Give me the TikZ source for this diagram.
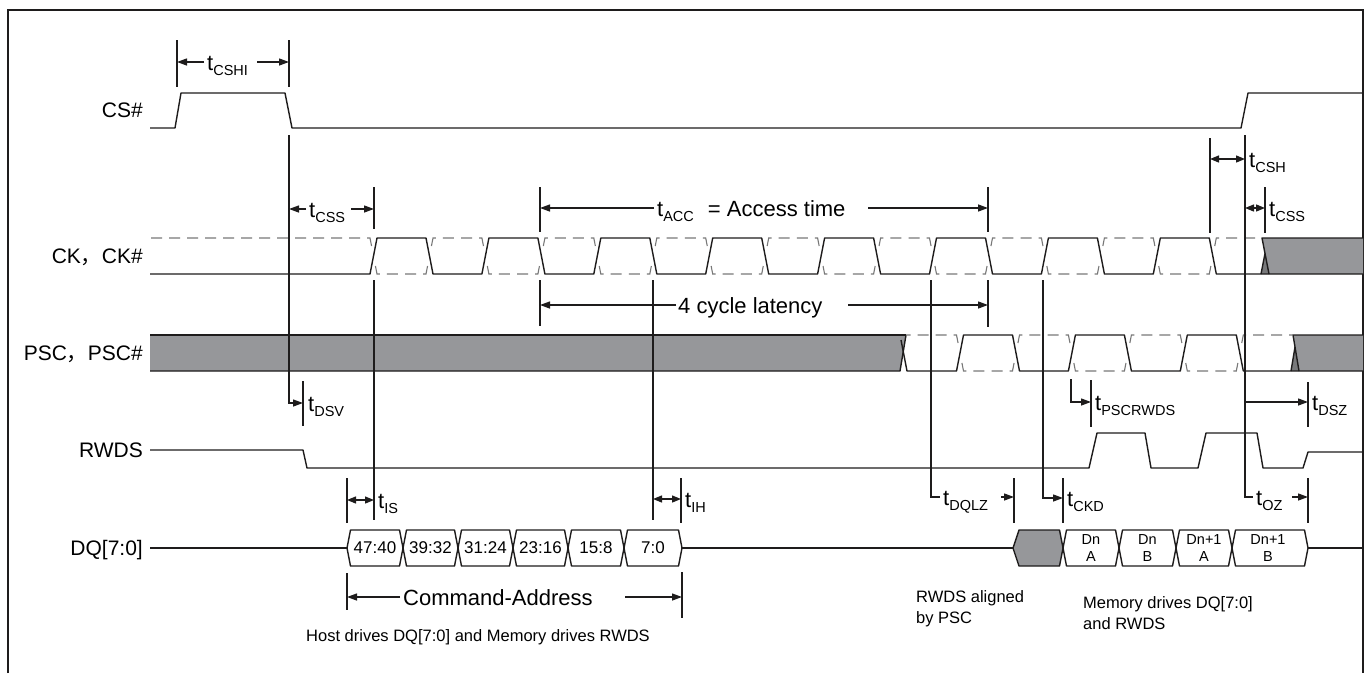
\documentclass[tikz,border=0pt]{standalone}
\usepackage{fontspec}
\setmainfont{Liberation Sans}
\newfontfamily\cjkfont{Noto Sans CJK SC}
\usetikzlibrary{arrows.meta}
\definecolor{wavegray}{RGB}{150,151,154}
\definecolor{dashgray}{RGB}{120,120,120}
\definecolor{ink}{RGB}{30,28,28}
\newcommand{\tsubs}[1]{t\raisebox{-5pt}{\fontsize{14.5}{16}\selectfont #1}}
\begin{document}
\begin{tikzpicture}[x=1pt,y=-1pt,
  sig/.style={draw=ink,line width=1.4pt,line join=round},
  cmp/.style={draw=dashgray,line width=1.1pt,dash pattern=on 11pt off 7pt},
  tickln/.style={draw=ink,line width=1.3pt},
  arrln/.style={draw=ink,line width=1.3pt,-{Triangle[length=10pt,width=7pt]}},
  darr/.style={draw=ink,line width=1.3pt,{Triangle[length=9pt,width=7pt]}-{Triangle[length=9pt,width=7pt]}},
  tlab/.style={anchor=base west,inner sep=0pt,font=\fontsize{22}{26}\selectfont},
  siglab/.style={anchor=base east,inner sep=0pt,font=\fontsize{21}{25}\selectfont},
  boxtxt/.style={inner sep=0pt,font=\fontsize{17}{20}\selectfont},
  dntxt/.style={inner sep=0pt,align=center,font=\fontsize{14.5}{17}\selectfont},
  notetxt/.style={inner sep=0pt,align=left,font=\fontsize{16.5}{21}\selectfont}]
\useasboundingbox (0,0) rectangle (1368,673);
\fill[white] (0,0) rectangle (1368,673);
% frame
\draw[ink,line width=2.2pt] (8,673) -- (8,10) -- (1363,10) -- (1363,673);

% signal labels
\node[siglab] (lcs)   at (143,117.5) {CS\#};
\node[siglab] (lck)   at (143,263.5) {CK{\cjkfont ，}CK\#};
\node[siglab] (lpsc)  at (143,360.5) {PSC{\cjkfont ，}PSC\#};
\node[siglab] (lrwds) at (143,457.5) {RWDS};
\node[siglab] (ldq)   at (143,555.5) {DQ[7:0]};

% CS#
\draw[sig] (150,128) -- (175,128) -- (181,93) -- (285,93) -- (292,128) -- (1241,128) -- (1248,93) -- (1363,93);

% CK gray end
\fill[wavegray] (1262,238) -- (1363,238) -- (1363,274) -- (1269,274) -- cycle;
\fill[wavegray!80!black] (1261,274) -- (1269,274) -- (1265,253.4) -- cycle;
% CK solid
\draw[sig] (150,274) foreach \k in {0,...,7} { -- ({370+111.9*\k},274) -- ({377+111.9*\k},238) -- ({426+111.9*\k},238) -- ({433+111.9*\k},274) } -- (1363,274);
\draw[sig] (1261,274) -- (1265,253.4);
\draw[sig] (1363,238) -- (1262,238) -- (1269,274);
% CK complement (dashed)
\draw[cmp] (371.56,246) -- (370,238) -- (150,238);
\foreach \k in {0,...,7}{
  \pgfmathsetmacro{\xa}{377+111.9*\k}
  \pgfmathsetmacro{\xb}{426+111.9*\k}
  \pgfmathsetmacro{\xm}{(\xa+\xb)/2}
  \draw[cmp] ({\xa-1.56},266) -- (\xa,274) -- (\xm,274);
  \draw[cmp] ({\xb+1.56},266) -- (\xb,274) -- (\xm,274);
}
\foreach \k in {0,...,6}{
  \pgfmathsetmacro{\xa}{433+111.9*\k}
  \pgfmathsetmacro{\xb}{481.9+111.9*\k}
  \pgfmathsetmacro{\xm}{(\xa+\xb)/2}
  \draw[cmp] ({\xa-1.56},246) -- (\xa,238) -- (\xm,238);
  \draw[cmp] ({\xb+1.56},246) -- (\xb,238) -- (\xm,238);
}
\draw[cmp] (1214.74,246) -- (1216.3,238) -- (1262,238);

% PSC gray start
\fill[wavegray] (150,335) -- (906,335) -- (900,371) -- (150,371) -- cycle;
\draw[sig] (150,335) -- (906,335);
\draw[sig] (150,371) -- (900,371) -- (906,335);
% PSC gray end
\fill[wavegray] (1293,335) -- (1363,335) -- (1363,371) -- (1299,371) -- cycle;
\fill[wavegray!80!black] (1291,371) -- (1299,371) -- (1295,347) -- cycle;
% PSC solid
\draw[sig] (901,340) -- (907,371) foreach \j in {0,1,2} { -- ({956.5+111.9*\j},371) -- ({963.5+111.9*\j},335) -- ({1012.5+111.9*\j},335) -- ({1019.5+111.9*\j},371) } -- (1363,371);
\draw[sig] (1291,371) -- (1295,347);
\draw[sig] (1363,335) -- (1293,335) -- (1299,371);
% PSC complement
\draw[cmp] (958.06,343) -- (956.5,335) -- (906,335);
\foreach \j in {0,1,2}{
  \pgfmathsetmacro{\xa}{963.5+111.9*\j}
  \pgfmathsetmacro{\xb}{1012.5+111.9*\j}
  \pgfmathsetmacro{\xm}{(\xa+\xb)/2}
  \draw[cmp] ({\xa-1.56},363) -- (\xa,371) -- (\xm,371);
  \draw[cmp] ({\xb+1.56},363) -- (\xb,371) -- (\xm,371);
}
\foreach \j in {0,1}{
  \pgfmathsetmacro{\xa}{1019.5+111.9*\j}
  \pgfmathsetmacro{\xb}{1068.4+111.9*\j}
  \pgfmathsetmacro{\xm}{(\xa+\xb)/2}
  \draw[cmp] ({\xa-1.56},343) -- (\xa,335) -- (\xm,335);
  \draw[cmp] ({\xb+1.56},343) -- (\xb,335) -- (\xm,335);
}
\draw[cmp] (1241.74,343) -- (1243.3,335) -- (1293,335);

% RWDS
\draw[sig] (150,450) -- (303,450) -- (307,468) -- (1089,468) -- (1097,433) -- (1145,433) -- (1151,468) -- (1198,468) -- (1206,433) -- (1257,433) -- (1263,468) -- (1303,468) -- (1308,452) -- (1363,452);

% DQ
\draw[sig] (150,548) -- (347,548);
\foreach \a/\b/\t in {347/403/47:40,403/458/39:32,458/513/31:24,513/568/23:16,568/624/15:8,624/682/7:0}{
  \draw[sig] (\a,548) -- ({\a+3.5},530) -- ({\b-3.5},530) -- (\b,548) -- ({\b-3.5},566) -- ({\a+3.5},566) -- cycle;
  \node[boxtxt] (dq\a) at ({(\a+\b)/2},548) {\t};
}
\draw[sig] (682,548) -- (1013,548);
\filldraw[fill=wavegray,draw=ink,line width=1.4pt,line join=round] (1013,548) -- (1019,530) -- (1059.5,530) -- (1063,548) -- (1059.5,566) -- (1019,566) -- cycle;
\foreach \a/\b/\c/\t in {1063/1119/1091/Dn\\A,1119/1176/1147.5/Dn\\B,1176/1232/1204/Dn+1\\A,1232/1308/1268/Dn+1\\B}{
  \draw[sig] (\a,548) -- ({\a+3.5},530) -- ({\b-3.5},530) -- (\b,548) -- ({\b-3.5},566) -- ({\a+3.5},566) -- cycle;
  \node[dntxt] (dn\a) at (\c,548) {\t};
}
\draw[sig] (1308,548) -- (1363,548);

% ---- timing annotations ----
% tCSHI
\draw[tickln] (177,40) -- (177,87);
\draw[tickln] (289,40) -- (289,87);
\node[tlab] (tcshi) at (207,70) {\tsubs{CSHI}};
\coordinate (c1) at (177,62); \coordinate (c2) at (204,62);
\coordinate (c3) at (257,62); \coordinate (c4) at (289,62);
\draw[arrln] (c2) -- (c1);
\draw[arrln] (c3) -- (c4);
% CS# fall line, tDSV
\coordinate (v1) at (289,135); \coordinate (v1b) at (289,403); \coordinate (v1c) at (303,403);
\draw[arrln] (v1) -- (v1b) -- (v1c);
\draw[tickln] (303,381) -- (303,426);
\node[tlab] (tdsv) at (308,411) {\tsubs{DSV}};
% tCSS left
\draw[tickln] (374,187) -- (374,229);
\node[tlab] (tcss) at (309,217) {\tsubs{CSS}};
\coordinate (s1) at (306,209); \coordinate (s2) at (289,209);
\coordinate (s3) at (351,209); \coordinate (s4) at (374,209);
\draw[arrln] (s1) -- (s2);
\draw[arrln] (s3) -- (s4);
% tIS
\draw[tickln] (374,280) -- (374,520);
\draw[tickln] (347,478) -- (347,523);
\coordinate (i1) at (347,500); \coordinate (i2) at (374,500);
\draw[darr] (i1) -- (i2);
\node[tlab] (tis) at (378,508) {\tsubs{IS}};
% tACC
\draw[tickln] (540,187) -- (540,232);
\draw[tickln] (988,187) -- (988,232);
\node[tlab] (tacc) at (657,216) {\tsubs{ACC}\hspace{14pt}= Access time};
\coordinate (ac1) at (654,208); \coordinate (ac2) at (540,208);
\coordinate (ac3) at (868,208); \coordinate (ac4) at (988,208);
\draw[arrln] (ac1) -- (ac2);
\draw[arrln] (ac3) -- (ac4);
% 4 cycle latency
\draw[tickln] (540,280) -- (540,326);
\draw[tickln] (988,280) -- (988,327);
\node[tlab] (lat) at (678,313) {4 cycle latency};
\coordinate (la1) at (676,305); \coordinate (la2) at (540,305);
\coordinate (la3) at (848,305); \coordinate (la4) at (988,305);
\draw[arrln] (la1) -- (la2);
\draw[arrln] (la3) -- (la4);
% tIH
\draw[tickln] (653,280) -- (653,520);
\draw[tickln] (681,478) -- (681,523);
\coordinate (h1) at (653,499); \coordinate (h2) at (681,499);
\draw[darr] (h1) -- (h2);
\node[tlab] (tih) at (685,507) {\tsubs{IH}};
% Command-Address
\draw[tickln] (347,573) -- (347,610);
\draw[tickln] (682,572) -- (682,618);
\node[tlab] (cmd) at (403,605) {Command-Address};
\coordinate (ca1) at (400,597); \coordinate (ca2) at (347,597);
\coordinate (ca3) at (625,597); \coordinate (ca4) at (682,597);
\draw[arrln] (ca1) -- (ca2);
\draw[arrln] (ca3) -- (ca4);
\node[notetxt] (host) at (478,637) {Host drives DQ[7:0] and Memory drives RWDS};
% tDQLZ
\coordinate (q1) at (931,280); \coordinate (q2) at (931,497); \coordinate (q3) at (940,497);
\draw[tickln] (q1) -- (q2) -- (q3);
\node[tlab] (tdqlz) at (943,505) {\tsubs{DQLZ}};
\coordinate (q4) at (1001,497); \coordinate (q5) at (1014,497);
\draw[arrln] (q4) -- (q5);
\draw[tickln] (1014,478) -- (1014,523);
% tCKD
\coordinate (k1) at (1043,280); \coordinate (k2) at (1043,498); \coordinate (k3) at (1063,498);
\draw[arrln] (k1) -- (k2) -- (k3);
\draw[tickln] (1063,478) -- (1063,523);
\node[tlab] (tckd) at (1067,506) {\tsubs{CKD}};
% tPSCRWDS
\coordinate (p1) at (1071,379); \coordinate (p2) at (1071,402); \coordinate (p3) at (1091,402);
\draw[arrln] (p1) -- (p2) -- (p3);
\draw[tickln] (1091,380) -- (1091,427);
\node[tlab] (tpsc) at (1095,410) {\tsubs{PSCRWDS}};
% tCSH
\draw[tickln] (1210,138) -- (1210,233);
\coordinate (e1) at (1245,135); \coordinate (e2) at (1245,497); \coordinate (e3) at (1253,497);
\draw[tickln] (e1) -- (e2) -- (e3);
\coordinate (ch1) at (1210,159); \coordinate (ch2) at (1245,159);
\draw[darr] (ch1) -- (ch2);
\node[tlab] (tcsh) at (1249,167) {\tsubs{CSH}};
% tCSS right
\coordinate (cs1) at (1245,208); \coordinate (cs2) at (1265,208);
\draw[darr] (cs1) -- (cs2);
\draw[tickln] (1265,187) -- (1265,233);
\node[tlab] (tcss2) at (1269,216) {\tsubs{CSS}};
% tDSZ
\coordinate (z1) at (1245,402); \coordinate (z2) at (1308,402);
\draw[arrln] (z1) -- (z2);
\draw[tickln] (1308,382) -- (1308,427);
\node[tlab] (tdsz) at (1312,410) {\tsubs{DSZ}};
% tOZ
\node[tlab] (toz) at (1256,505) {\tsubs{OZ}};
\coordinate (o1) at (1292,497); \coordinate (o2) at (1308,497);
\draw[arrln] (o1) -- (o2);
\draw[tickln] (1308,478) -- (1308,523);

% notes
\node[notetxt,anchor=north west] (aligned) at (916,590) {RWDS aligned\\by PSC};
\node[notetxt,anchor=north west] (memdrv) at (1083,596) {Memory drives DQ[7:0]\\and RWDS};
\end{tikzpicture}
\end{document}
